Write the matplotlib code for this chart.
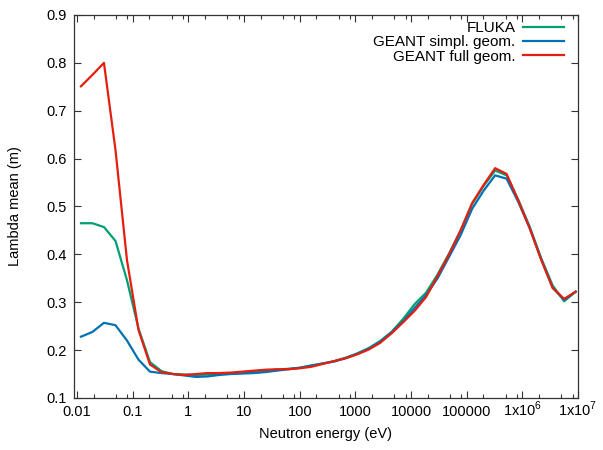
import matplotlib
matplotlib.use('Agg')
import matplotlib.pyplot as plt
from matplotlib.ticker import FixedLocator, NullFormatter
from matplotlib.transforms import ScaledTranslation

plt.rcParams['font.family'] = ['Liberation Sans', 'DejaVu Sans']
plt.rcParams['mathtext.fontset'] = 'custom'
plt.rcParams['mathtext.rm'] = 'Liberation Sans'

# neutron energies (eV)
energy = [0.01175, 0.0189, 0.0304, 0.049, 0.0788, 0.127, 0.204, 0.329, 0.529, 0.851,
          1.37, 2.21, 3.55, 5.71, 9.2, 14.8, 23.8, 38.4, 61.8, 99.4,
          160, 258, 414, 667, 1074, 1728, 2781, 4477, 7206, 11600,
          18670, 30050, 48370, 77850, 125300, 201700, 324600, 522500, 841000, 1.354e6,
          2.179e6, 3.507e6, 5.645e6, 9.08e6]

fluka = [0.465, 0.465, 0.457, 0.428, 0.346, 0.245, 0.175, 0.156, 0.150, 0.149,
         0.148, 0.149, 0.150, 0.151, 0.153, 0.155, 0.157, 0.159, 0.161, 0.163,
         0.167, 0.172, 0.177, 0.184, 0.193, 0.204, 0.219, 0.238, 0.265, 0.296,
         0.320, 0.358, 0.402, 0.450, 0.505, 0.543, 0.575, 0.565, 0.515, 0.458,
         0.392, 0.335, 0.302, 0.322]

geant_simpl = [0.228, 0.238, 0.257, 0.252, 0.220, 0.180, 0.155, 0.152, 0.150, 0.147,
               0.144, 0.145, 0.148, 0.150, 0.151, 0.152, 0.154, 0.157, 0.160, 0.163,
               0.168, 0.172, 0.176, 0.183, 0.192, 0.203, 0.217, 0.237, 0.260, 0.288,
               0.315, 0.350, 0.395, 0.440, 0.495, 0.533, 0.565, 0.558, 0.510, 0.455,
               0.390, 0.330, 0.305, 0.322]

geant_full = [0.751, 0.775, 0.800, 0.618, 0.388, 0.242, 0.170, 0.154, 0.150, 0.148,
              0.150, 0.152, 0.152, 0.153, 0.155, 0.157, 0.159, 0.160, 0.160, 0.162,
              0.165, 0.171, 0.177, 0.183, 0.191, 0.201, 0.215, 0.235, 0.258, 0.282,
              0.311, 0.355, 0.400, 0.450, 0.507, 0.545, 0.580, 0.568, 0.513, 0.455,
              0.389, 0.330, 0.307, 0.322]

xticks = [0.01, 0.1, 1, 10, 100, 1000, 1e4, 1e5, 1e6, 1e7]
xtick_labels = ['0.01', '0.1', '1', '10', '100', '1000', '10000', '100000',
                r'1x10$^{6}$', r'1x10$^{7}$']
yticks = [0.1, 0.2, 0.3, 0.4, 0.5, 0.6, 0.7, 0.8, 0.9]

fig = plt.figure(figsize=(6.03, 4.5), dpi=100)
ax = fig.add_axes([0.1227, 0.1156, 0.8358, 0.8511])

ax.plot(energy, fluka, color='#009e73', lw=1.6, label='FLUKA')
ax.plot(energy, geant_simpl, color='#0072b2', lw=1.6, label='GEANT simpl. geom.')
ax.plot(energy, geant_full, color='#e51e10', lw=1.6, label='GEANT full geom.')

ax.set_xscale('log')
ax.set_xlim(0.0088, 1e7)
ax.set_ylim(0.1, 0.9)
ax.set_xticks(xticks)
ax.set_xticklabels(xtick_labels)
minors = [m * d for d in xticks[:-1] for m in (2, 5, 8)]
ax.xaxis.set_minor_locator(FixedLocator(minors))
ax.xaxis.set_minor_formatter(NullFormatter())
ax.set_yticks(yticks)
ax.set_yticklabels(['%.1f' % v for v in yticks])

ax.tick_params(which='both', direction='in', top=True, right=True,
               labelsize=10.5, colors='#333333', labelcolor='black', width=0.8)
ax.tick_params(which='major', length=5, pad=5)
ax.tick_params(which='minor', length=3)
for s in ax.spines.values():
    s.set_color('#333333')
    s.set_linewidth(0.9)

# keep the 1x10^n labels on the same baseline as the others
for lab in ax.get_xticklabels()[8:]:
    lab.set_verticalalignment('baseline')
    lab.set_transform(lab.get_transform() +
                      ScaledTranslation(0, -7.8 / 72, fig.dpi_scale_trans))

ax.set_xlabel('Neutron energy (eV)', fontsize=10.5, labelpad=6)
ax.set_ylabel('Lambda mean (m)', fontsize=10.5, labelpad=18)

ax.legend(loc='upper right', frameon=False, markerfirst=False, fontsize=11,
          handlelength=2.7, handletextpad=0.5, labelspacing=0.02,
          borderaxespad=0.0, bbox_to_anchor=(0.985, 1.0))

fig.savefig('out.png', dpi=100)
